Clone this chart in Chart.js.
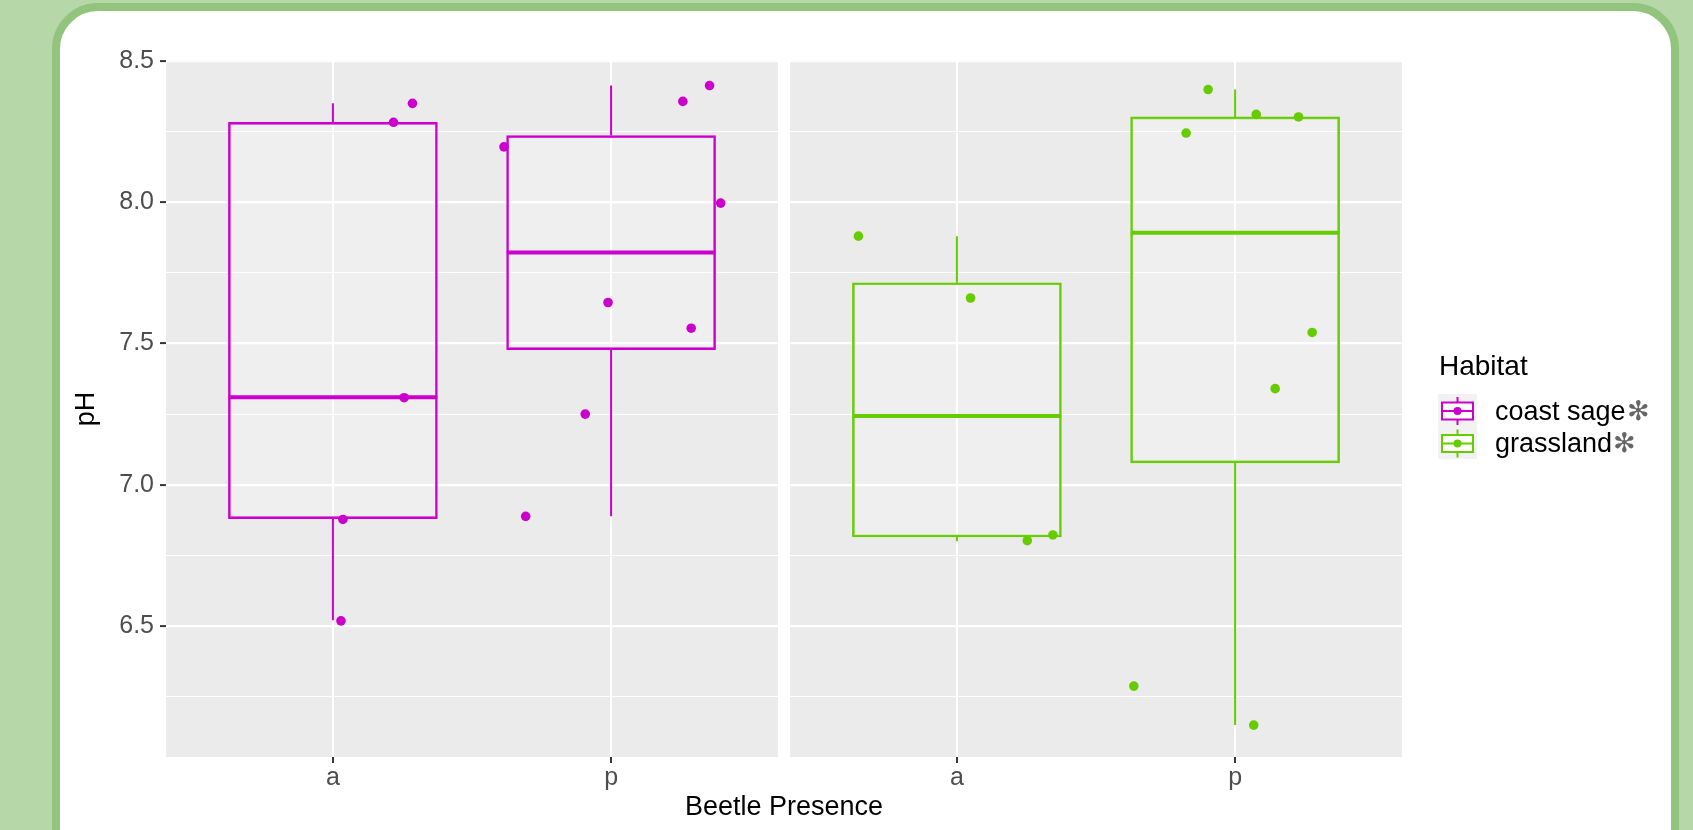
<!DOCTYPE html>
<html>
<head>
<meta charset="utf-8">
<title>pH by beetle presence and habitat</title>
<script src="https://cdn.jsdelivr.net/npm/chart.js@4.4.1/dist/chart.umd.min.js"></script>
<style>
    html, body { margin: 0; padding: 0; overflow: hidden; }
    body { width: 1693px; height: 830px; background: #b6d7a8; position: relative; }
    .card {
        position: absolute; left: 52px; top: 3px; width: 1627px; height: 880px;
        box-sizing: border-box; border: 8.5px solid #93c47d; border-radius: 46px; background: #fff;
    }
    #mainChart { position: absolute; left: 0; top: 0; }
</style>
</head>
<body>
<div class="card"></div>
<canvas id="mainChart" width="1693" height="830"></canvas>
<script>
// Categorias
const habitats = ["coast sage", "grassland"];
const presence = ["a", "p"];

// Estadisticas de las cajas (a, p)
const coastSageLow = [6.52, 6.888];
const coastSageQ1 = [6.88, 7.478];
const coastSageMedian = [7.31, 7.822];
const coastSageQ3 = [8.283, 8.236];
const coastSageHigh = [8.35, 8.413];

const grasslandLow = [6.80, 6.149];
const grasslandQ1 = [6.815, 7.077];
const grasslandMedian = [7.243, 7.892];
const grasslandQ3 = [7.715, 8.302];
const grasslandHigh = [7.88, 8.399];

// Puntos con jitter (pH y desplazamiento horizontal en unidades de categoria)
const coastSageAbsentPH = [8.35, 8.283, 7.308, 6.877, 6.518];
const coastSageAbsentJitter = [0.286, 0.218, 0.256, 0.036, 0.029];
const coastSagePresentPH = [8.196, 8.357, 8.413, 7.997, 7.645, 7.554, 7.25, 6.888];
const coastSagePresentJitter = [-0.385, 0.258, 0.354, 0.394, -0.011, 0.288, -0.093, -0.307];
const grasslandAbsentPH = [7.88, 7.661, 6.802, 6.822];
const grasslandAbsentJitter = [-0.354, 0.049, 0.253, 0.345];
const grasslandPresentPH = [8.399, 8.245, 8.311, 8.302, 7.539, 7.34, 6.287, 6.149];
const grasslandPresentJitter = [-0.097, -0.176, 0.076, 0.228, 0.277, 0.144, -0.364, 0.067];

// Ticks
const yMajorTicks = [6.5, 7.0, 7.5, 8.0, 8.5];
const yMinorTicks = [6.25, 6.75, 7.25, 7.75, 8.25];

document.addEventListener("DOMContentLoaded", function () {
    const ctx = document.getElementById("mainChart").getContext("2d");

    const habitatColors = ["#CC00CC", "#66CC00"];
    const fontFamily = "'Liberation Sans', Arial, Helvetica, sans-serif";
    Chart.defaults.font.family = fontFamily;

    // each facet spans 2.2 units (0.6 expansion each side), plus a small gap
    const panelShift = 2.2432;
    const boxHalf = 0.375;
    const xPos = (h, k) => k + 1 + h * panelShift;

    const groups = [
        {
            low: coastSageLow, q1: coastSageQ1, med: coastSageMedian, q3: coastSageQ3, high: coastSageHigh,
            pts: [[coastSageAbsentPH, coastSageAbsentJitter], [coastSagePresentPH, coastSagePresentJitter]],
        },
        {
            low: grasslandLow, q1: grasslandQ1, med: grasslandMedian, q3: grasslandQ3, high: grasslandHigh,
            pts: [[grasslandAbsentPH, grasslandAbsentJitter], [grasslandPresentPH, grasslandPresentJitter]],
        },
    ];

    const datasets = [];
    groups.forEach((g, h) => {
        const color = habitatColors[h];
        // cajas
        datasets.push({
            type: "bar",
            label: habitats[h] + " box",
            data: presence.map((p, k) => ({ x: xPos(h, k), y: [g.q1[k], g.q3[k]] })),
            backgroundColor: "rgba(255,255,255,0.22)",
            borderColor: color,
            borderWidth: 2,
            borderSkipped: false,
            barThickness: 209,
            grouped: false,
            order: 2,
        });
        // bigotes
        const whiskers = [];
        presence.forEach((p, k) => {
            const x = xPos(h, k);
            whiskers.push({ x, y: g.q3[k] }, { x, y: g.high[k] }, { x, y: null });
            whiskers.push({ x, y: g.q1[k] }, { x, y: g.low[k] }, { x, y: null });
        });
        datasets.push({
            type: "line",
            label: habitats[h] + " whiskers",
            data: whiskers,
            borderColor: color,
            borderWidth: 2,
            pointRadius: 0,
            pointHoverRadius: 0,
            spanGaps: false,
            fill: false,
            order: 3,
        });
        // medianas
        const medians = [];
        presence.forEach((p, k) => {
            const x = xPos(h, k);
            medians.push({ x: x - boxHalf, y: g.med[k] }, { x: x + boxHalf, y: g.med[k] }, { x: x + boxHalf, y: null });
        });
        datasets.push({
            type: "line",
            label: habitats[h] + " median",
            data: medians,
            borderColor: color,
            borderWidth: 4,
            pointRadius: 0,
            pointHoverRadius: 0,
            spanGaps: false,
            fill: false,
            order: 1,
        });
        // puntos
        const points = [];
        g.pts.forEach(([values, jitter], k) => {
            values.forEach((v, i) => points.push({ x: xPos(h, k) + jitter[i], y: v }));
        });
        datasets.push({
            type: "scatter",
            label: habitats[h],
            data: points,
            backgroundColor: color,
            borderWidth: 0,
            pointRadius: 4.8,
            order: 0,
        });
    });

    const xTickValues = habitats.flatMap((hab, h) => presence.map((p, k) => xPos(h, k)));
    const xTickLabels = habitats.flatMap(() => presence);
    const yTicks = yMinorTicks.concat(yMajorTicks).sort((a, b) => a - b);
    const isMajor = (v) => yMajorTicks.includes(v);

    // fondo gris de cada faceta
    const panelBackground = {
        id: "panelBackground",
        beforeDraw(chart) {
            const { ctx, chartArea, scales } = chart;
            ctx.save();
            ctx.fillStyle = "#EBEBEB";
            habitats.forEach((hab, h) => {
                const left = scales.x.getPixelForValue(0.4 + h * panelShift);
                const right = scales.x.getPixelForValue(2.6 + h * panelShift);
                ctx.fillRect(left, chartArea.top, right - left, chartArea.bottom - chartArea.top);
            });
            ctx.restore();
        },
    };

    // leyenda estilo ggplot
    const habitatLegend = {
        id: "habitatLegend",
        afterDraw(chart) {
            const ctx = chart.ctx;
            const x0 = chart.chartArea.right + 36;
            ctx.save();
            ctx.textBaseline = "alphabetic";
            ctx.textAlign = "left";
            ctx.fillStyle = "#000";
            ctx.font = "28px " + fontFamily;
            ctx.fillText("Habitat", x0 + 1, 375);
            habitats.forEach((name, i) => {
                const top = 394 + i * 32.5;
                const cx = x0 + 19.5;
                const cy = top + 17;
                ctx.fillStyle = "#F2F2F2";
                ctx.fillRect(x0, top, 39, 32.5);
                ctx.strokeStyle = habitatColors[i];
                ctx.lineWidth = 2;
                ctx.beginPath();
                ctx.moveTo(cx, cy - 14);
                ctx.lineTo(cx, cy + 14);
                ctx.stroke();
                ctx.fillStyle = "#FFFFFF";
                ctx.fillRect(cx - 15.5, cy - 8.5, 31, 17);
                ctx.strokeRect(cx - 15.5, cy - 8.5, 31, 17);
                ctx.beginPath();
                ctx.moveTo(cx - 15.5, cy);
                ctx.lineTo(cx + 15.5, cy);
                ctx.stroke();
                ctx.beginPath();
                ctx.arc(cx, cy, 4, 0, Math.PI * 2);
                ctx.fillStyle = habitatColors[i];
                ctx.fill();
                ctx.font = "27px " + fontFamily;
                ctx.fillStyle = "#000";
                ctx.fillText(name, x0 + 57, cy + 8.5);
                const w = ctx.measureText(name).width;
                ctx.fillStyle = "#666666";
                ctx.fillText("\u273B", x0 + 57 + w + 1, cy + 8.5);
            });
            ctx.restore();
        },
    };

    new Chart(ctx, {
        type: "scatter",
        data: { datasets },
        options: {
            responsive: false,
            animation: false,
            events: [],
            layout: { padding: { left: 0, right: 291, top: 61, bottom: 0 } },
            plugins: {
                legend: { display: false },
                tooltip: { enabled: false },
            },
            scales: {
                x: {
                    type: "linear",
                    offset: false,
                    min: 0.4,
                    max: 2.6 + panelShift,
                    afterBuildTicks: (scale) => {
                        scale.ticks = xTickValues.map((v) => ({ value: v }));
                    },
                    afterFit: (scale) => {
                        scale.height = 73;
                    },
                    ticks: {
                        callback: (value, index) => xTickLabels[index],
                        color: "#4D4D4D",
                        font: { size: 25 },
                        padding: 0,
                        maxRotation: 0,
                        autoSkip: false,
                    },
                    grid: {
                        offset: false,
                        color: "#FFFFFF",
                        lineWidth: 2,
                        tickColor: "#333333",
                        tickLength: 6,
                        tickWidth: 2,
                    },
                    border: { display: false },
                    title: {
                        display: true,
                        text: "Beetle Presence",
                        color: "#000000",
                        font: { size: 27 },
                        padding: { top: 0, bottom: 6 },
                    },
                },
                y: {
                    type: "linear",
                    min: 6.036,
                    max: 8.5,
                    afterBuildTicks: (scale) => {
                        scale.ticks = yTicks.map((v) => ({ value: v }));
                    },
                    afterFit: (scale) => {
                        scale.width = 166;
                    },
                    ticks: {
                        callback: (value) => (isMajor(value) ? value.toFixed(1) : ""),
                        color: "#4D4D4D",
                        font: { size: 25 },
                        padding: 6,
                        autoSkip: false,
                    },
                    grid: {
                        color: "#FFFFFF",
                        lineWidth: (c) => (c.tick && isMajor(c.tick.value) ? 2.2 : 1.1),
                        tickColor: (c) => (c.tick && isMajor(c.tick.value) ? "#333333" : "rgba(0,0,0,0)"),
                        tickLength: 6,
                        tickWidth: 2,
                    },
                    border: { display: false },
                    title: {
                        display: true,
                        text: "pH",
                        color: "#000000",
                        font: { size: 27 },
                        padding: { top: 70, bottom: 0 },
                    },
                },
            },
        },
        plugins: [panelBackground, habitatLegend],
    });
});
</script>
</body>
</html>
